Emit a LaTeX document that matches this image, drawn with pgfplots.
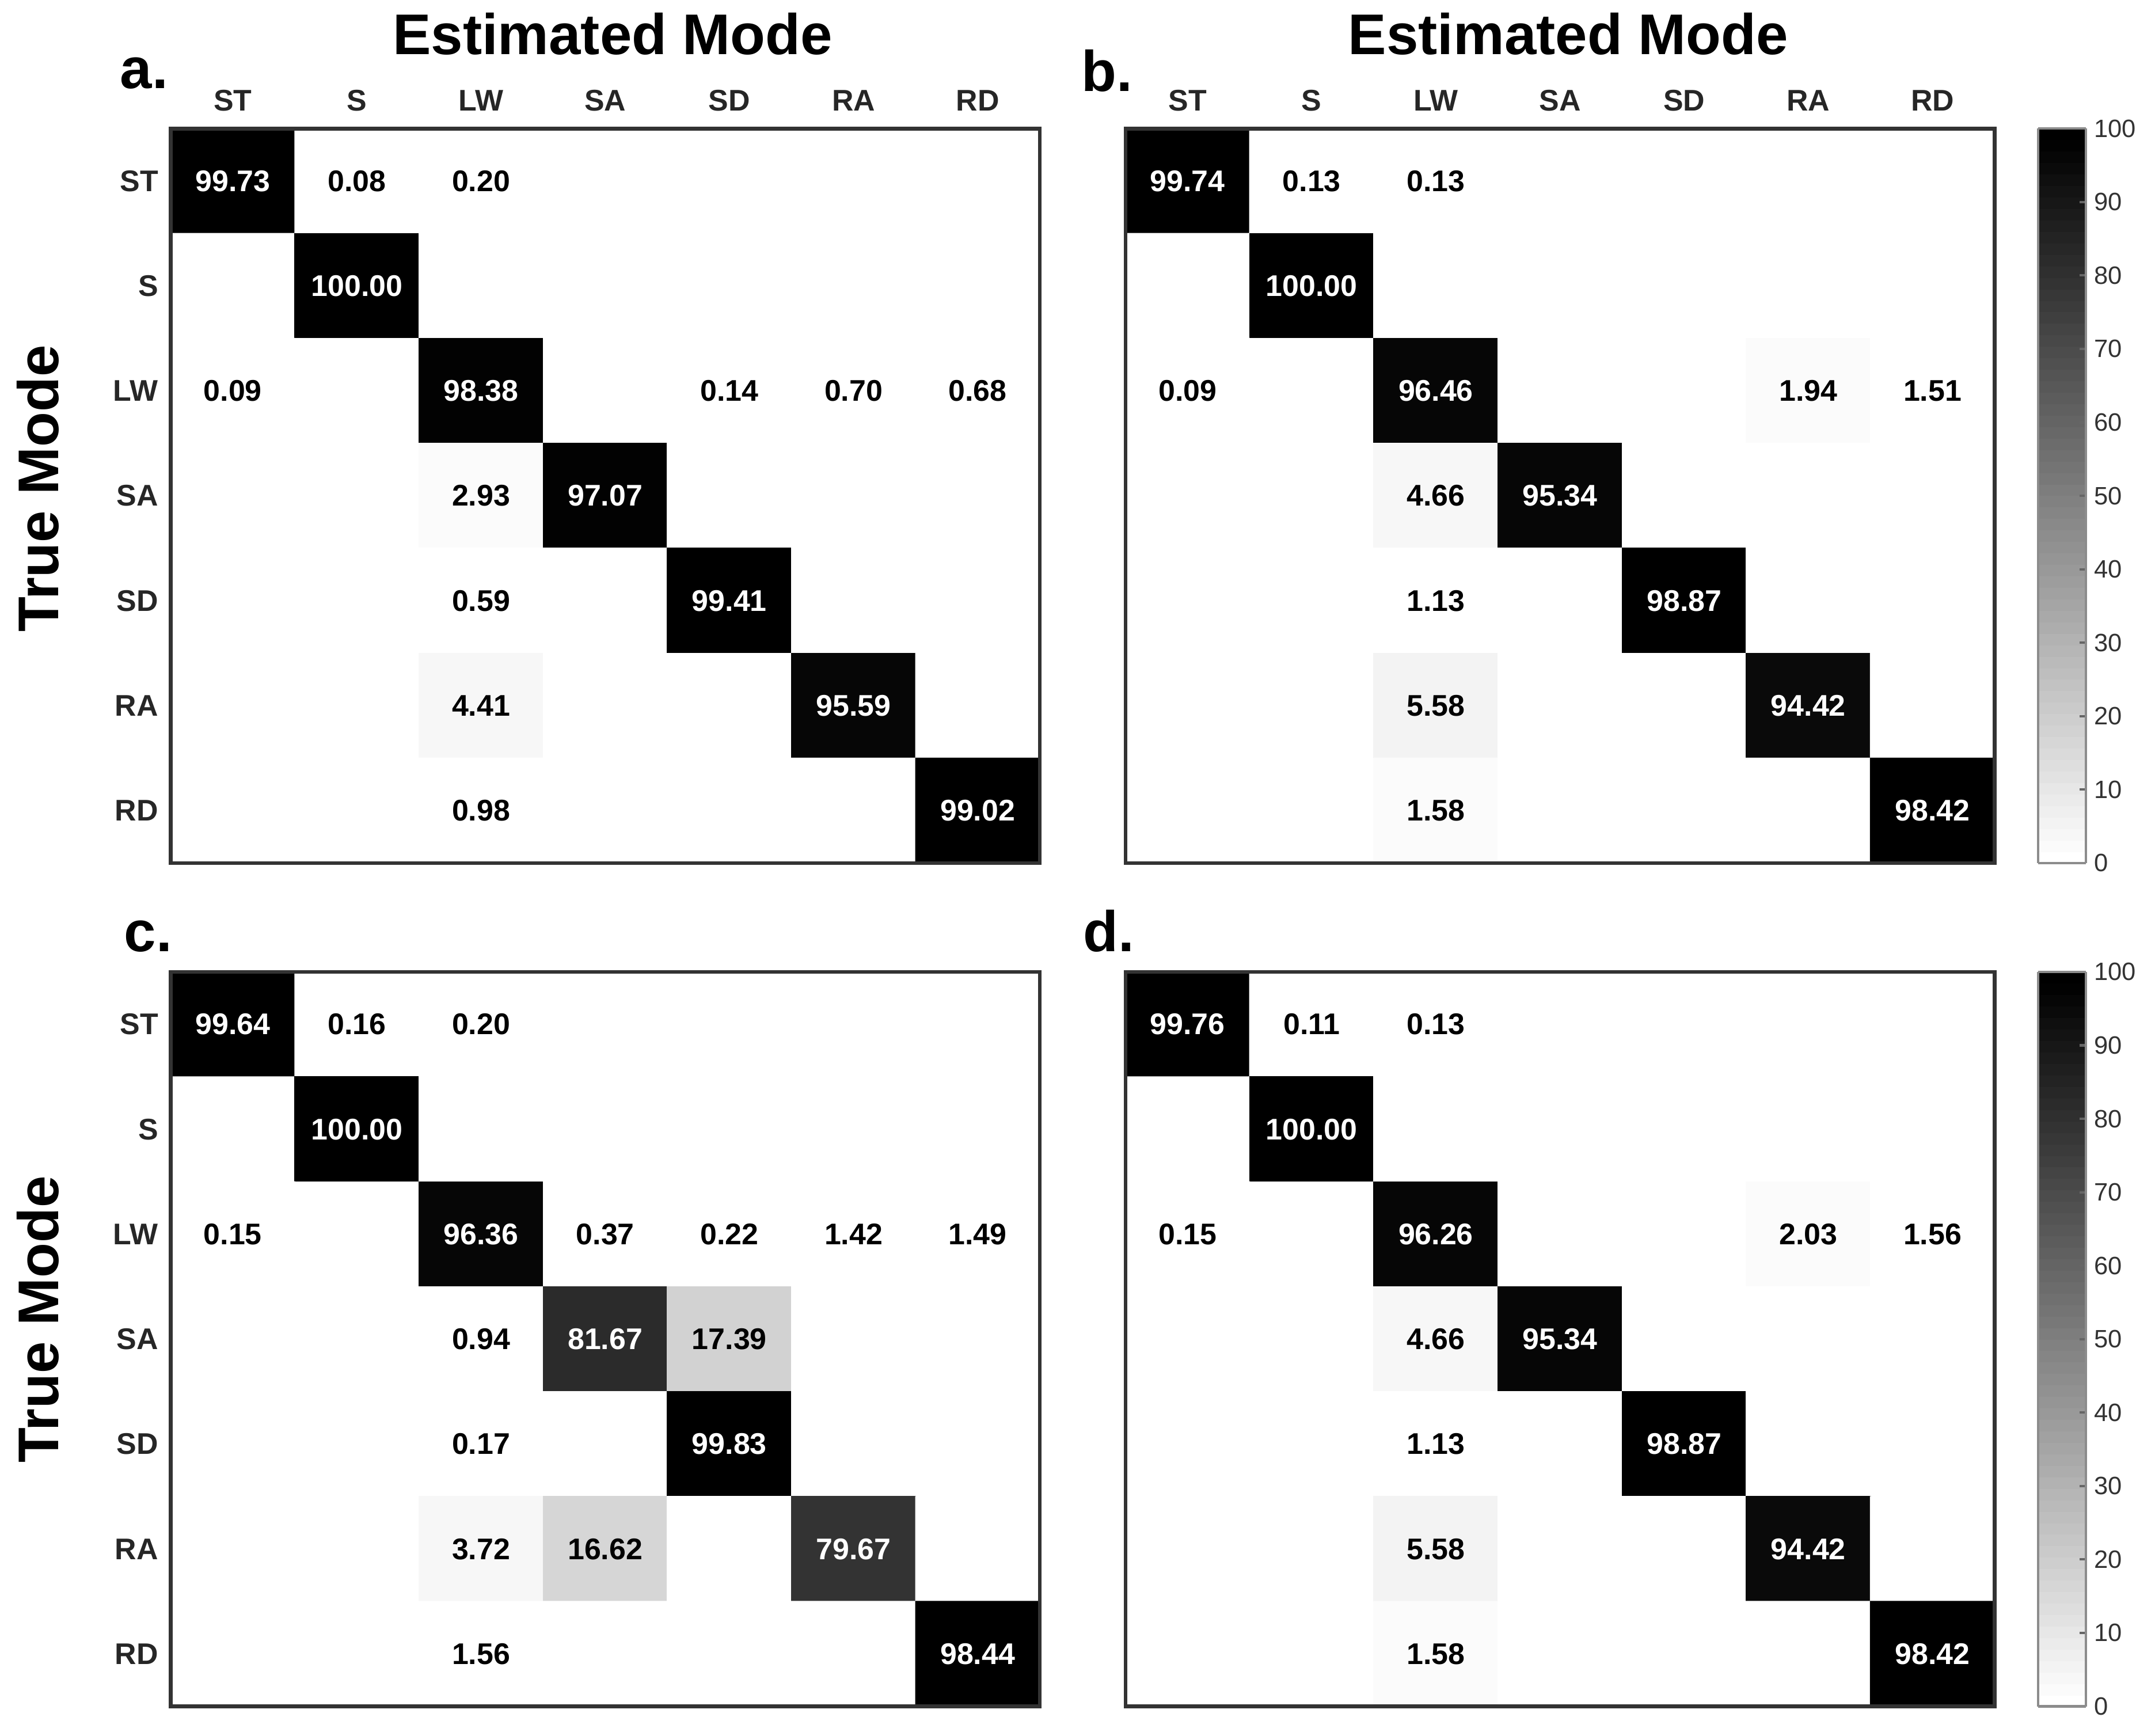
\documentclass[border=0pt]{standalone}
\usepackage{fontspec}
\setmainfont{Liberation Sans}
\usepackage{pgfplots}
\usepackage{pgfplotstable}
\pgfplotsset{compat=1.18}

% confusion matrices, rows = true mode, columns = estimated mode
% order: ST S LW SA SD RA RD
\pgfplotstableread[row sep=\\]{
x y c\\
0 0 99.73\\ 1 0 0.08\\ 2 0 0.20\\ 3 0 0\\ 4 0 0\\ 5 0 0\\ 6 0 0\\
0 1 0\\ 1 1 100.00\\ 2 1 0\\ 3 1 0\\ 4 1 0\\ 5 1 0\\ 6 1 0\\
0 2 0.09\\ 1 2 0\\ 2 2 98.38\\ 3 2 0\\ 4 2 0.14\\ 5 2 0.70\\ 6 2 0.68\\
0 3 0\\ 1 3 0\\ 2 3 2.93\\ 3 3 97.07\\ 4 3 0\\ 5 3 0\\ 6 3 0\\
0 4 0\\ 1 4 0\\ 2 4 0.59\\ 3 4 0\\ 4 4 99.41\\ 5 4 0\\ 6 4 0\\
0 5 0\\ 1 5 0\\ 2 5 4.41\\ 3 5 0\\ 4 5 0\\ 5 5 95.59\\ 6 5 0\\
0 6 0\\ 1 6 0\\ 2 6 0.98\\ 3 6 0\\ 4 6 0\\ 5 6 0\\ 6 6 99.02\\
}\tabA

\pgfplotstableread[row sep=\\]{
x y c\\
0 0 99.74\\ 1 0 0.13\\ 2 0 0.13\\ 3 0 0\\ 4 0 0\\ 5 0 0\\ 6 0 0\\
0 1 0\\ 1 1 100.00\\ 2 1 0\\ 3 1 0\\ 4 1 0\\ 5 1 0\\ 6 1 0\\
0 2 0.09\\ 1 2 0\\ 2 2 96.46\\ 3 2 0\\ 4 2 0\\ 5 2 1.94\\ 6 2 1.51\\
0 3 0\\ 1 3 0\\ 2 3 4.66\\ 3 3 95.34\\ 4 3 0\\ 5 3 0\\ 6 3 0\\
0 4 0\\ 1 4 0\\ 2 4 1.13\\ 3 4 0\\ 4 4 98.87\\ 5 4 0\\ 6 4 0\\
0 5 0\\ 1 5 0\\ 2 5 5.58\\ 3 5 0\\ 4 5 0\\ 5 5 94.42\\ 6 5 0\\
0 6 0\\ 1 6 0\\ 2 6 1.58\\ 3 6 0\\ 4 6 0\\ 5 6 0\\ 6 6 98.42\\
}\tabB

\pgfplotstableread[row sep=\\]{
x y c\\
0 0 99.64\\ 1 0 0.16\\ 2 0 0.20\\ 3 0 0\\ 4 0 0\\ 5 0 0\\ 6 0 0\\
0 1 0\\ 1 1 100.00\\ 2 1 0\\ 3 1 0\\ 4 1 0\\ 5 1 0\\ 6 1 0\\
0 2 0.15\\ 1 2 0\\ 2 2 96.36\\ 3 2 0.37\\ 4 2 0.22\\ 5 2 1.42\\ 6 2 1.49\\
0 3 0\\ 1 3 0\\ 2 3 0.94\\ 3 3 81.67\\ 4 3 17.39\\ 5 3 0\\ 6 3 0\\
0 4 0\\ 1 4 0\\ 2 4 0.17\\ 3 4 0\\ 4 4 99.83\\ 5 4 0\\ 6 4 0\\
0 5 0\\ 1 5 0\\ 2 5 3.72\\ 3 5 16.62\\ 4 5 0\\ 5 5 79.67\\ 6 5 0\\
0 6 0\\ 1 6 0\\ 2 6 1.56\\ 3 6 0\\ 4 6 0\\ 5 6 0\\ 6 6 98.44\\
}\tabC

\pgfplotstableread[row sep=\\]{
x y c\\
0 0 99.76\\ 1 0 0.11\\ 2 0 0.13\\ 3 0 0\\ 4 0 0\\ 5 0 0\\ 6 0 0\\
0 1 0\\ 1 1 100.00\\ 2 1 0\\ 3 1 0\\ 4 1 0\\ 5 1 0\\ 6 1 0\\
0 2 0.15\\ 1 2 0\\ 2 2 96.26\\ 3 2 0\\ 4 2 0\\ 5 2 2.03\\ 6 2 1.56\\
0 3 0\\ 1 3 0\\ 2 3 4.66\\ 3 3 95.34\\ 4 3 0\\ 5 3 0\\ 6 3 0\\
0 4 0\\ 1 4 0\\ 2 4 1.13\\ 3 4 0\\ 4 4 98.87\\ 5 4 0\\ 6 4 0\\
0 5 0\\ 1 5 0\\ 2 5 5.58\\ 3 5 0\\ 4 5 0\\ 5 5 94.42\\ 6 5 0\\
0 6 0\\ 1 6 0\\ 2 6 1.58\\ 3 6 0\\ 4 6 0\\ 5 6 0\\ 6 6 98.42\\
}\tabD

\newcommand{\cellfont}{\bfseries\fontsize{12.5}{14}\selectfont}
\newcommand{\labfont}{\bfseries\fontsize{12.5}{14}\selectfont}
\newcommand{\bigfont}{\bfseries\fontsize{24}{28}\selectfont}

% reversed gray, 64 steps
\pgfplotsset{
  colormap={wbcont}{color=(white) color=(black)},
  colormap={wb64}{samples of colormap=(64 of wbcont)},
}

\pgfplotsset{
  cmat/.style={
    width=12.78cm, height=10.8cm, scale only axis,
    xmin=-0.5, xmax=6.5, ymin=-0.5, ymax=6.5, y dir=reverse,
    xtick={0,...,6}, ytick={0,...,6},
    major tick length=0pt,
    xticklabel pos=upper,
    xticklabel style={font=\labfont, text=black!85, anchor=base, yshift=0.26cm},
    yticklabel style={font=\labfont, text=black!85, anchor=east, xshift=-0.06cm},
    colormap name=wb64, colormap access=piecewise constant,
    point meta min=0, point meta max=100,
    axis line style={black!80, line width=1.6pt},
    axis on top,
  },
  cbar/.style={
    colorbar,
    colorbar style={
      at={(parent axis.north east)}, anchor=north west, xshift=0.34cm,
      width=0.7cm,
      ytick={0,10,...,100},
      ytick pos=right,
      /pgf/number format/assume math mode=true,
      yticklabel style={font=\fontsize{10.5}{12}\selectfont, text=black!80},
      axis line style={black!45, line width=1pt},
      major tick length=0.09cm, tick align=inside,
      tick style={black!60, line width=1pt},
    },
  },
}

\newcommand{\cmcells}[1]{%
  \addplot[matrix plot*, mesh/cols=7, point meta=explicit] table[x=x, y=y, meta=c]{#1};
  \addplot[draw=none, mark=none, nodes near coords, point meta=explicit symbolic,
    restrict expr to domain={\thisrow{c}}{50:200},
    every node near coord/.append style={anchor=center, text=white, font=\cellfont}]
    table[x=x, y=y, meta=c]{#1};
  \addplot[draw=none, mark=none, nodes near coords, point meta=explicit symbolic,
    restrict expr to domain={\thisrow{c}}{0.001:50},
    every node near coord/.append style={anchor=center, text=black, font=\cellfont}]
    table[x=x, y=y, meta=c]{#1};
}

\begin{document}
\begin{tikzpicture}
\useasboundingbox (0,0) rectangle (31.41,-25.52);

% a
\begin{axis}[cmat, at={(2.51cm,-1.89cm)}, anchor=north west,
  xticklabels={ST,S,LW,SA,SD,RA,RD}, yticklabels={ST,S,LW,SA,SD,RA,RD}]
\cmcells{\tabA}
\end{axis}

% b
\begin{axis}[cmat, cbar, at={(16.55cm,-1.89cm)}, anchor=north west,
  xticklabels={ST,S,LW,SA,SD,RA,RD}, yticklabels={}]
\cmcells{\tabB}
\end{axis}

% c
\begin{axis}[cmat, at={(2.51cm,-14.29cm)}, anchor=north west,
  xticklabels={}, yticklabels={ST,S,LW,SA,SD,RA,RD}]
\cmcells{\tabC}
\end{axis}

% d
\begin{axis}[cmat, cbar, at={(16.55cm,-14.29cm)}, anchor=north west,
  xticklabels={}, yticklabels={}]
\cmcells{\tabD}
\end{axis}

\node[font=\bigfont, anchor=base] at (9.01,-0.80) {Estimated Mode};
\node[font=\bigfont, anchor=base] at (23.06,-0.80) {Estimated Mode};
\node[font=\bigfont, rotate=90, anchor=base] at (0.86,-7.18) {True Mode};
\node[font=\bigfont, rotate=90, anchor=base] at (0.86,-19.40) {True Mode};

\node[font=\bigfont, anchor=base west, inner sep=0pt] at (1.76,-1.30) {a.};
\node[font=\bigfont, anchor=base west, inner sep=0pt] at (15.90,-1.34) {b.};
\node[font=\bigfont, anchor=base west, inner sep=0pt] at (1.82,-13.99) {c.};
\node[font=\bigfont, anchor=base west, inner sep=0pt] at (15.92,-13.99) {d.};
\end{tikzpicture}
\end{document}
